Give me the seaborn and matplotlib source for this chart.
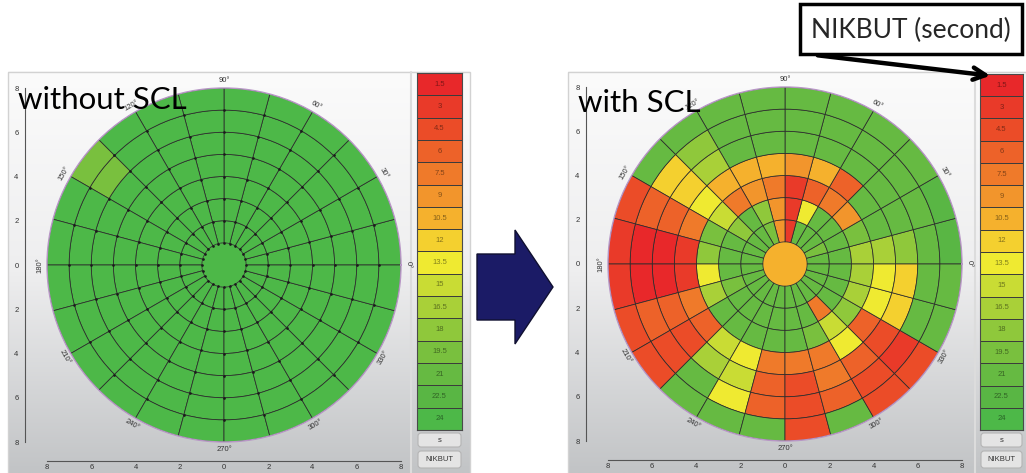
import numpy as np
import matplotlib
matplotlib.use("Agg")
import matplotlib.pyplot as plt
import matplotlib.colors as mcolors
import matplotlib.patches as mpatches
import matplotlib.ticker as mticker
import seaborn as sns

sns.set_style("white")
plt.rcParams['font.family'] = ['Liberation Sans', 'DejaVu Sans']

# NIKBUT colour scale (seconds), top of the strip to the bottom
levels = [1.5, 3, 4.5, 6, 7.5, 9, 10.5, 12, 13.5, 15, 16.5, 18, 19.5, 21, 22.5, 24]
level_labels = ['1.5', '3', '4.5', '6', '7.5', '9', '10.5', '12', '13.5', '15',
                '16.5', '18', '19.5', '21', '22.5', '24']
level_colors = ['#e8282a', '#e93a29', '#eb4c28', '#ed6229', '#ef7a2a', '#f2952c',
                '#f5b12d', '#f4d02f', '#efea31', '#c9dc34', '#a9d038', '#8fc83b',
                '#79c03e', '#66ba42', '#59b644', '#4db848']

# sectors of 15 deg (start angle, counter-clockwise from 0 deg), rings of 1 unit
sector_deg = np.arange(0, 360, 15)
ring_inner = np.arange(1, 8)

# without SCL
wo_center = 24
wo_r1 = [24, 24, 24, 24, 24, 24, 24, 24, 24, 24, 24, 24, 24, 24, 24, 24, 24, 24, 24, 24, 24, 24, 24, 24]
wo_r2 = [24, 24, 24, 24, 24, 24, 24, 24, 24, 24, 24, 24, 24, 24, 24, 24, 24, 24, 24, 24, 24, 24, 24, 24]
wo_r3 = [24, 24, 24, 24, 24, 24, 24, 24, 24, 24, 24, 24, 24, 24, 24, 24, 24, 24, 24, 24, 24, 24, 24, 24]
wo_r4 = [24, 24, 24, 24, 24, 24, 24, 24, 24, 24, 24, 24, 24, 24, 24, 24, 24, 24, 24, 24, 24, 24, 24, 24]
wo_r5 = [24, 24, 24, 24, 24, 24, 24, 24, 24, 24, 24, 24, 24, 24, 24, 24, 24, 24, 24, 24, 24, 24, 24, 24]
wo_r6 = [24, 24, 24, 24, 24, 24, 24, 24, 24, 19.5, 24, 24, 24, 24, 24, 24, 24, 24, 24, 24, 24, 24, 24, 24]
wo_r7 = [24, 24, 24, 24, 24, 24, 24, 24, 24, 19.5, 24, 24, 24, 24, 24, 24, 24, 24, 24, 24, 24, 24, 24, 24]

# with SCL
w_center = 10.5
w_r1 = [21, 19.5, 21, 21, 21, 3, 9, 19.5, 21, 21, 21, 21, 21, 21, 21, 21, 21, 21, 21, 21, 21, 21, 21, 21]
w_r2 = [21, 21, 21, 21, 13.5, 3, 9, 18, 21, 18, 21, 21, 21, 19.5, 21, 21, 21, 21, 21, 21, 7.5, 21, 21, 21]
w_r3 = [16.5, 19.5, 9, 7.5, 6, 3, 7.5, 9, 7.5, 15, 19.5, 18, 13.5, 16.5, 21, 21, 21, 21, 21, 19.5, 15, 18, 16.5, 16.5]
w_r4 = [16.5, 21, 21, 6, 10.5, 9, 10.5, 10.5, 10.5, 13.5, 7.5, 3, 3, 7.5, 6, 15, 13.5, 7.5, 7.5, 7.5, 13.5, 6, 13.5, 13.5]
w_r5 = [18, 21, 21, 21, 21, 21, 21, 21, 16.5, 12, 6, 1.5, 1.5, 6, 4.5, 16.5, 15, 6, 4.5, 7.5, 6, 4.5, 12, 12]
w_r6 = [21, 21, 21, 21, 21, 21, 21, 21, 18, 12, 6, 1.5, 1.5, 6, 4.5, 21, 13.5, 6, 4.5, 6, 4.5, 3, 21, 21]
w_r7 = [22.5, 22.5, 21, 21, 21, 21, 21, 21, 21, 21, 4.5, 3, 3, 4.5, 4.5, 21, 21, 21, 4.5, 21, 4.5, 4.5, 21, 21]

cmap = mcolors.ListedColormap(level_colors)
norm = mcolors.Normalize(vmin=0.75, vmax=24.75)

W, H = 1026, 473
fig = plt.figure(figsize=(W / 100, H / 100), dpi=100)


def rect(x0, y0, x1, y1):
    return [x0 / W, 1 - y1 / H, (x1 - x0) / W, (y1 - y0) / H]


# panel backgrounds
bg = fig.add_axes([0, 0, 1, 1], zorder=0)
grad = np.linspace(0, 1, 200).reshape(-1, 1)
panel_cmap = mcolors.LinearSegmentedColormap.from_list('panel', ['#fbfbfb', '#eeeeef', '#c2c4c6'])
for x0, x1, xs in [(8, 470, 411), (568, 1026, 975)]:
    bg.imshow(grad, extent=(x0, x1, 473, 72), cmap=panel_cmap, aspect='auto', zorder=0)
    bg.add_patch(mpatches.Rectangle((x0, 72), x1 - x0, 410, fill=False, ec='#d2d2d2', lw=1))
    bg.plot([xs, xs], [72, 473], color='#dcdcdc', lw=1.5)
bg.set_xlim(0, W)
bg.set_ylim(H, 0)
bg.axis('off')


def draw_map(px, center_val, rings, dots=False):
    # x / y scale drawn behind the polar map
    cart = fig.add_axes(rect(*px), zorder=1)
    cart.patch.set_alpha(0)
    cart.set_xlim(-8, 8)
    cart.set_ylim(-8, 8)
    cart.spines[['top', 'right']].set_visible(False)
    cart.spines['left'].set_position(('outward', 16))
    cart.spines['bottom'].set_position(('outward', 13.5))
    for s in ['left', 'bottom']:
        cart.spines[s].set_color('#555555')
        cart.spines[s].set_linewidth(0.8)
    cart.set_xticks(np.arange(-8, 9, 2))
    cart.set_yticks(np.arange(-8, 9, 2))
    cart.set_xticks(np.arange(-8, 9, 1), minor=True)
    cart.set_yticks(np.arange(-8, 9, 1), minor=True)
    fmt = mticker.FuncFormatter(lambda v, p: f'{abs(v):.0f}')
    cart.xaxis.set_major_formatter(fmt)
    cart.yaxis.set_major_formatter(fmt)
    cart.tick_params(axis='x', which='both', direction='in', length=3, color='#555555',
                     labelsize=5.5, labelcolor='#333333', pad=2)
    cart.tick_params(axis='y', which='both', direction='out', length=3, color='#555555',
                     labelsize=5.5, labelcolor='#333333', pad=1.5)
    cart.tick_params(which='minor', length=2)

    pol = fig.add_axes(rect(*px), projection='polar', zorder=2)
    pol.patch.set_alpha(0)
    width = np.deg2rad(15)
    theta_mid = np.deg2rad(sector_deg + 7.5)
    pol.bar(0, 1, width=2 * np.pi, bottom=0, color=cmap(norm(center_val)), edgecolor='none')
    for r0, vals in zip(ring_inner, rings):
        pol.bar(theta_mid, 1, width=width, bottom=r0, color=cmap(norm(np.array(vals))),
                edgecolor='#2b2b2b', linewidth=0.55)
    if dots:
        tt, rr = np.meshgrid(np.deg2rad(sector_deg), np.arange(1, 8))
        pol.plot(tt.ravel(), rr.ravel(), 'o', ms=0.9, color='#1a1a1a', ls='none')
    pol.set_ylim(0, 8)
    pol.set_xticks([])
    pol.set_yticks([])
    pol.grid(False)
    pol.spines['polar'].set_color('#b896c6')
    pol.spines['polar'].set_linewidth(1.0)
    for ang in range(0, 360, 30):
        rot = ang - 90 if ang <= 180 else ang - 270
        pol.text(np.deg2rad(ang), 8.32, f'{ang}\u00b0', rotation=rot, rotation_mode='anchor',
                 ha='center', va='center', fontsize=5.5, color='#333333')
    return pol


def draw_scale(px):
    ax = fig.add_axes(rect(*px), zorder=2)
    sns.heatmap(np.array(levels).reshape(-1, 1), ax=ax, cmap=cmap, vmin=0.75, vmax=24.75,
                annot=np.array(level_labels).reshape(-1, 1), fmt='', cbar=False,
                linewidths=0.7, linecolor='#3c3c3c', xticklabels=False, yticklabels=False,
                annot_kws={'fontsize': 5.5})
    for t, c in zip(ax.texts, level_colors):
        rgb = np.array(mcolors.to_rgb(c))
        t.set_color(rgb * 0.55)
    for sp in ax.spines.values():
        sp.set_visible(True)
        sp.set_color('#4a4a4a')
        sp.set_linewidth(0.8)
    ax.set_xlabel('')
    ax.set_ylabel('')


draw_map((47, 88, 401, 442), wo_center, [wo_r1, wo_r2, wo_r3, wo_r4, wo_r5, wo_r6, wo_r7], dots=True)
draw_map((608, 87, 962, 441), w_center, [w_r1, w_r2, w_r3, w_r4, w_r5, w_r6, w_r7])
draw_scale((417, 73, 462, 430))
draw_scale((980, 74, 1023, 430))

# buttons under the scales
for x0, x1 in [(417, 462), (980, 1023)]:
    for y0, y1, lab in [(433, 447, 's'), (451, 468, 'NIKBUT')]:
        bg.add_patch(mpatches.FancyBboxPatch((x0 + 1, y0), x1 - x0 - 2, y1 - y0,
                                             boxstyle='round,pad=0,rounding_size=3',
                                             fc='#e4e4e4', ec='#b4b4b4', lw=0.8, zorder=3))
        bg.text((x0 + x1) / 2, (y0 + y1) / 2, lab, ha='center', va='center',
                fontsize=5.5, color='#333333', zorder=4)

# annotations on top
top = fig.add_axes([0, 0, 1, 1], zorder=5)
top.patch.set_alpha(0)
top.set_xlim(0, W)
top.set_ylim(H, 0)
top.axis('off')

top.text(18, 109, 'without SCL', fontsize=22.5, family='Lato', color='black', va='baseline')
top.text(578, 112, 'with SCL', fontsize=22.5, family='Lato', color='black', va='baseline')

top.add_patch(mpatches.FancyArrow(477, 287, 76, 0, width=66, head_width=114, head_length=38,
                                  length_includes_head=True, fc='#1b1b66', ec='#101030', lw=1))

top.add_patch(mpatches.Rectangle((800, 4), 222, 50, fc='white', ec='black', lw=2.5))
top.text(911, 30, 'NIKBUT (second)', fontsize=19, family='Lato', ha='center', va='center')
top.annotate('', xy=(993, 76), xytext=(815, 55),
             arrowprops=dict(arrowstyle='->', lw=3.2, color='black', mutation_scale=22))

fig.savefig('out.png', dpi=100)
